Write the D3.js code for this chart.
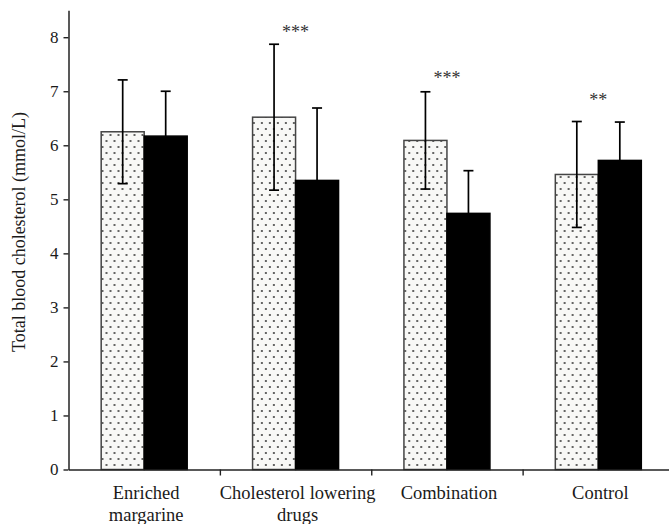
<!DOCTYPE html>
<html>
<head>
<meta charset="utf-8">
<script src="https://cdn.jsdelivr.net/npm/d3@7"></script>
<style>
  body { margin: 0; background: #fff; }
  text { font-family: "Liberation Serif", "Times New Roman", serif; fill: #1a1a1a; }
</style>
</head>
<body>
<div id="chart"></div>
<script>
// groups on the x axis (each label may wrap on two lines)
const categories = ["Enriched margarine", "Cholesterol lowering drugs", "Combination", "Control"];
const labelLines = [["Enriched", "margarine"], ["Cholesterol lowering", "drugs"], ["Combination"], ["Control"]];
const series = ["before", "after"];

// mean total blood cholesterol (mmol/L)
const beforeValues = [6.25, 6.52, 6.09, 5.46];
const afterValues = [6.17, 5.35, 4.74, 5.72];
// standard deviation (error bar half length)
const beforeErr = [0.96, 1.35, 0.90, 0.98];
const afterErr = [0.83, 1.34, 0.79, 0.71];

// significance marks and the level (mmol/L) where they sit
const sigMarks = ["", "***", "***", "**"];
const sigLevel = [0, 8.16, 7.31, 6.90];

const yTicks = [0, 1, 2, 3, 4, 5, 6, 7, 8];

const width = 669;
const height = 524;

const svg = d3.select("#chart")
    .append("svg")
    .attr("width", width)
    .attr("height", height);

const defs = svg.append("defs");
const pattern = defs.append("pattern")
    .attr("id", "dots")
    .attr("patternUnits", "userSpaceOnUse")
    .attr("width", 8)
    .attr("height", 12);
pattern.append("rect").attr("width", 8).attr("height", 12).attr("fill", "#f8f8f6");
pattern.append("circle").attr("cx", 2).attr("cy", 3).attr("r", 1).attr("fill", "#333");
pattern.append("circle").attr("cx", 6).attr("cy", 9).attr("r", 1).attr("fill", "#333");

const y = d3.scaleLinear()
    .domain([0, 8.5])
    .range([469.5, 10.2]);

const x0 = d3.scaleBand()
    .domain(categories)
    .range([68.5, 674])
    .padding(0);

const barW = 43;
const x1 = d3.scaleBand()
    .domain(series)
    .range([x0.bandwidth() / 2 - barW, x0.bandwidth() / 2 + barW]);

const rows = categories.map((c, i) => ({
    cat: c,
    bars: [
        { key: "before", value: beforeValues[i], err: beforeErr[i] },
        { key: "after", value: afterValues[i], err: afterErr[i] }
    ]
}));

// bars
const groups = svg.selectAll(".group")
    .data(rows)
    .enter().append("g")
    .attr("class", "group")
    .attr("transform", d => "translate(" + x0(d.cat) + ",0)");

groups.selectAll("rect")
    .data(d => d.bars)
    .enter().append("rect")
    .attr("x", d => x1(d.key))
    .attr("y", d => y(d.value))
    .attr("width", x1.bandwidth())
    .attr("height", d => y(0) - y(d.value))
    .attr("fill", d => d.key === "before" ? "url(#dots)" : "#000")
    .attr("stroke", d => d.key === "before" ? "#444" : "#000")
    .attr("stroke-width", 1.5);

// error bars (the lower half of the black bars is hidden in the fill)
const capW = 10;
const errs = groups.selectAll(".err")
    .data(d => d.bars)
    .enter().append("g")
    .attr("class", "err")
    .attr("stroke", "#000")
    .attr("stroke-width", 1.7);

const cx = d => x1(d.key) + x1.bandwidth() / 2;
const lo = d => d.key === "before" ? d.value - d.err : d.value;

errs.append("line")
    .attr("x1", cx)
    .attr("x2", cx)
    .attr("y1", d => y(lo(d)))
    .attr("y2", d => y(d.value + d.err));

errs.append("line")
    .attr("x1", d => cx(d) - capW / 2)
    .attr("x2", d => cx(d) + capW / 2)
    .attr("y1", d => y(d.value + d.err))
    .attr("y2", d => y(d.value + d.err));

errs.filter(d => d.key === "before").append("line")
    .attr("x1", d => cx(d) - capW / 2)
    .attr("x2", d => cx(d) + capW / 2)
    .attr("y1", d => y(d.value - d.err))
    .attr("y2", d => y(d.value - d.err));

// significance stars
svg.selectAll(".sig")
    .data(categories)
    .enter().append("text")
    .attr("class", "sig")
    .attr("x", (c, i) => x0(c) + x0.bandwidth() / 2)
    .attr("y", (c, i) => y(sigLevel[i]) + 9)
    .attr("text-anchor", "middle")
    .style("font-size", "18px")
    .style("fill", "#333")
    .text((c, i) => sigMarks[i]);

// y axis
const yAxis = svg.append("g")
    .attr("transform", "translate(68.5,0)")
    .call(d3.axisLeft(y).tickValues(yTicks).tickSize(5).tickSizeOuter(0).tickPadding(5));
yAxis.select(".domain").attr("stroke", "#222").attr("stroke-width", 1.5);
yAxis.selectAll(".tick line").attr("stroke", "#222").attr("stroke-width", 1.4);
yAxis.selectAll(".tick text")
    .style("font-size", "17px")
    .style("font-family", "Liberation Serif, serif")
    .attr("fill", "#1a1a1a");

// x axis: ticks at group boundaries
const xb = d3.scaleLinear().domain([0, categories.length]).range(x0.range());
const xAxis = svg.append("g")
    .attr("transform", "translate(0," + y(0) + ")")
    .call(d3.axisBottom(xb).tickValues(d3.range(1, categories.length + 1)).tickSize(6).tickSizeOuter(0).tickFormat(""));
xAxis.select(".domain").attr("stroke", "#222").attr("stroke-width", 1.5);
xAxis.selectAll(".tick line").attr("stroke", "#222").attr("stroke-width", 1.4);

// category labels
const labels = svg.selectAll(".xlabel")
    .data(categories)
    .enter().append("text")
    .attr("class", "xlabel")
    .attr("text-anchor", "middle")
    .attr("x", c => x0(c) + x0.bandwidth() / 2 + 2)
    .attr("y", 499)
    .style("font-size", "18.5px");

labels.selectAll("tspan")
    .data((c, i) => labelLines[i])
    .enter().append("tspan")
    .attr("x", function () { return d3.select(this.parentNode).attr("x"); })
    .attr("dy", (d, i) => i === 0 ? 0 : 22)
    .text(d => d);

// y axis title
svg.append("text")
    .attr("transform", "translate(25,232) rotate(-90)")
    .attr("text-anchor", "middle")
    .style("font-size", "18px")
    .text("Total blood cholesterol (mmol/L)");
</script>
</body>
</html>
